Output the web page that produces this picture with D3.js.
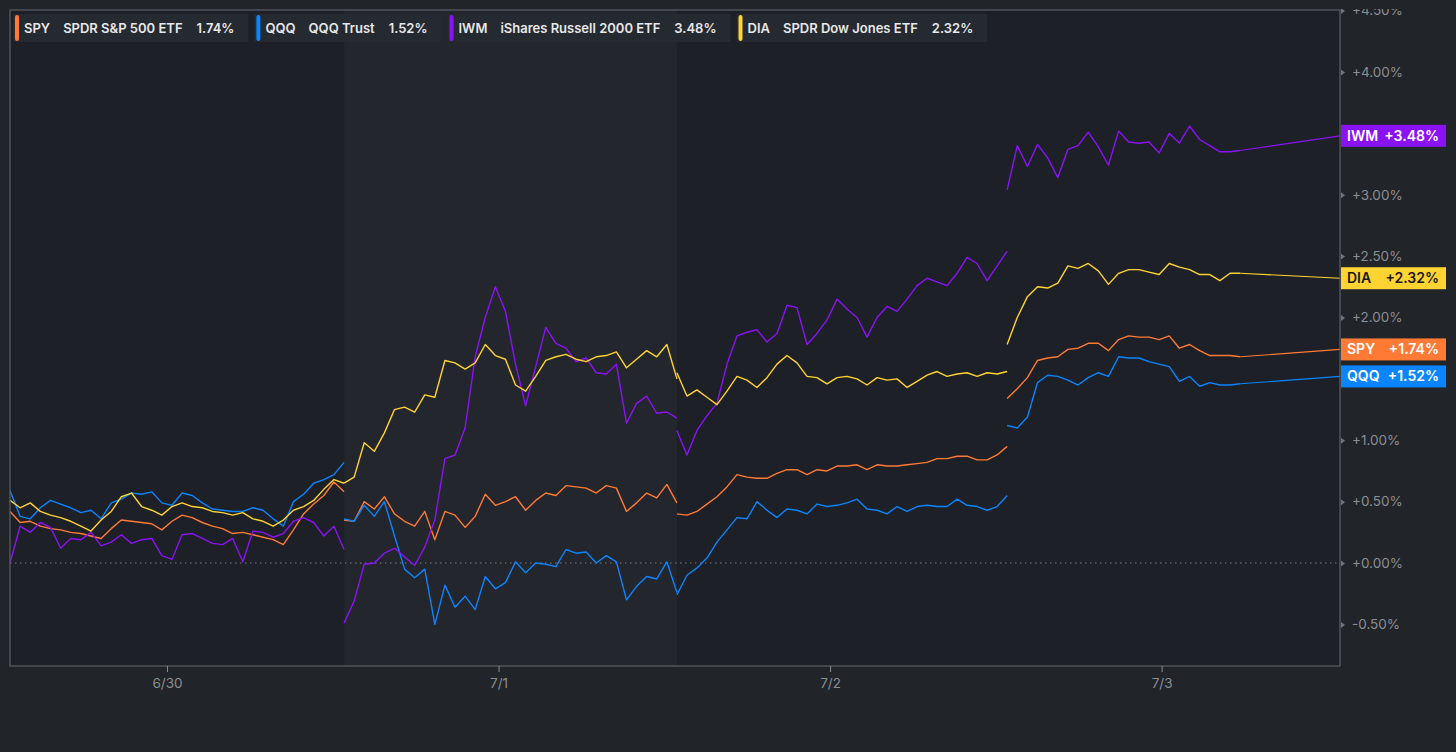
<!DOCTYPE html>
<html>
<head>
<meta charset="utf-8">
<script src="https://cdn.jsdelivr.net/npm/d3@7"></script>
<style>
  html, body { margin: 0; padding: 0; background: #212429; }
  svg { display: block; font-family: Inter, "Noto Sans", sans-serif; }
</style>
</head>
<body>
<svg id="chart" width="1456" height="752"></svg>
<script>
// trading sessions in "day" units (6/30 = 1, 7/1 = 2, ...)
const sessions = [[0.5264, 1.534], [1.534, 2.538], [2.538, 3.534], [3.534, 4.237]];
const lastTime = 4.538;

const tickDays = [1, 2, 3, 4];
const tickLabels = ['6/30', '7/1', '7/2', '7/3'];
const yTicks = [-0.5, 0, 0.5, 1, 1.5, 2, 2.5, 3, 3.5, 4, 4.5];

const symbols = ['SPY', 'QQQ', 'IWM', 'DIA'];
const names = ['SPDR S&P 500 ETF', 'QQQ Trust', 'iShares Russell 2000 ETF', 'SPDR Dow Jones ETF'];
const finalPct = [1.74, 1.52, 3.48, 2.32];

// % change, one list per session
const spy = [
  [0.42,0.33,0.34,0.30,0.28,0.27,0.25,0.24,0.22,0.20,0.28,0.35,0.34,0.33,0.32,0.27,0.34,0.39,0.37,0.33,0.30,0.28,0.24,0.25,0.23,0.21,0.19,0.15,0.27,0.40,0.48,0.55,0.66,0.58],
  [0.35,0.34,0.50,0.44,0.54,0.40,0.34,0.30,0.42,0.19,0.42,0.39,0.29,0.38,0.56,0.47,0.50,0.54,0.43,0.51,0.57,0.55,0.63,0.62,0.61,0.57,0.63,0.61,0.42,0.49,0.57,0.53,0.64,0.49],
  [0.40,0.39,0.42,0.48,0.54,0.62,0.72,0.70,0.69,0.69,0.73,0.76,0.76,0.72,0.76,0.75,0.79,0.79,0.80,0.76,0.80,0.79,0.79,0.80,0.81,0.82,0.85,0.85,0.87,0.87,0.84,0.84,0.88,0.95],
  [1.34,1.42,1.51,1.65,1.67,1.68,1.74,1.75,1.79,1.79,1.73,1.82,1.85,1.84,1.84,1.82,1.85,1.75,1.78,1.73,1.69,1.69,1.69,1.68]
];
const qqq = [
  [0.59,0.38,0.36,0.45,0.51,0.48,0.45,0.41,0.43,0.36,0.49,0.52,0.57,0.56,0.58,0.49,0.47,0.57,0.55,0.49,0.44,0.43,0.42,0.42,0.45,0.43,0.36,0.30,0.50,0.56,0.65,0.68,0.72,0.82],
  [0.36,0.34,0.47,0.38,0.50,0.22,-0.05,-0.12,-0.05,-0.50,-0.18,-0.36,-0.27,-0.38,-0.11,-0.21,-0.16,0.01,-0.08,0.00,-0.01,-0.03,0.11,0.08,0.09,0.00,0.06,0.01,-0.30,-0.19,-0.11,-0.13,0.01,-0.24],
  [-0.26,-0.10,-0.04,0.04,0.17,0.27,0.37,0.36,0.50,0.43,0.37,0.44,0.43,0.40,0.48,0.46,0.47,0.49,0.52,0.44,0.43,0.40,0.46,0.42,0.46,0.47,0.46,0.46,0.52,0.47,0.46,0.43,0.46,0.55],
  [1.12,1.10,1.19,1.47,1.53,1.52,1.49,1.45,1.51,1.55,1.52,1.68,1.67,1.67,1.64,1.62,1.60,1.48,1.52,1.44,1.47,1.45,1.45,1.46]
];
const iwm = [
  [0.00,0.30,0.25,0.33,0.29,0.12,0.20,0.19,0.25,0.14,0.17,0.23,0.16,0.19,0.20,0.06,0.03,0.23,0.24,0.20,0.16,0.15,0.20,0.01,0.26,0.25,0.21,0.24,0.34,0.37,0.33,0.22,0.30,0.11],
  [-0.49,-0.31,-0.01,0.00,0.08,0.12,0.05,-0.02,0.13,0.35,0.85,0.88,1.10,1.68,2.00,2.25,2.05,1.62,1.28,1.60,1.92,1.79,1.75,1.64,1.67,1.55,1.54,1.62,1.14,1.30,1.36,1.22,1.23,1.18],
  [1.08,0.88,1.08,1.20,1.30,1.62,1.85,1.88,1.90,1.80,1.87,2.10,2.08,1.78,1.87,1.98,2.15,2.07,2.00,1.84,2.00,2.09,2.05,2.15,2.26,2.32,2.29,2.26,2.36,2.49,2.44,2.30,2.42,2.54],
  [3.04,3.40,3.23,3.41,3.30,3.14,3.37,3.40,3.51,3.39,3.24,3.52,3.43,3.42,3.43,3.34,3.50,3.42,3.56,3.45,3.40,3.35,3.35,3.36]
];
const dia = [
  [0.51,0.45,0.49,0.42,0.39,0.37,0.34,0.30,0.26,0.35,0.42,0.54,0.57,0.46,0.43,0.39,0.46,0.49,0.46,0.45,0.42,0.41,0.39,0.41,0.36,0.34,0.30,0.35,0.43,0.46,0.51,0.60,0.68,0.65],
  [0.65,0.70,0.98,0.91,1.06,1.25,1.27,1.23,1.37,1.35,1.65,1.63,1.58,1.63,1.78,1.69,1.66,1.45,1.40,1.52,1.65,1.68,1.70,1.66,1.64,1.68,1.69,1.72,1.59,1.66,1.73,1.68,1.78,1.50],
  [1.55,1.36,1.41,1.35,1.29,1.40,1.52,1.49,1.43,1.51,1.62,1.69,1.63,1.52,1.51,1.46,1.51,1.52,1.50,1.45,1.51,1.49,1.50,1.43,1.48,1.53,1.56,1.52,1.54,1.55,1.52,1.55,1.54,1.56],
  [1.78,2.00,2.17,2.25,2.24,2.28,2.42,2.40,2.44,2.38,2.27,2.36,2.39,2.39,2.37,2.35,2.44,2.41,2.39,2.35,2.35,2.30,2.36,2.36]
];

const colors = ['#ff7a35', '#0a84ff', '#8a12f5', '#ffd332'];
const labelText = ['#ffffff', '#ffffff', '#ffffff', '#17191d'];
const seriesData = [spy, qqq, iwm, dia];

const svg = d3.select('#chart');
const plotLeft = 10, plotRight = 1340, plotTop = 10, plotBottom = 666;

const x = d3.scaleLinear().domain([sessions[0][0], lastTime]).range([plotLeft, plotRight]);
const y = d3.scaleLinear().domain([-0.839, 4.505]).range([plotBottom, plotTop]);

// plot background + middle session band
svg.append('rect').attr('x', plotLeft).attr('y', plotTop)
  .attr('width', plotRight - plotLeft).attr('height', plotBottom - plotTop).attr('fill', '#1d2026');
svg.append('rect')
  .attr('x', x(sessions[1][0])).attr('y', plotTop)
  .attr('width', x(sessions[1][1]) - x(sessions[1][0])).attr('height', plotBottom - plotTop)
  .attr('fill', '#23262c');

// zero line
svg.append('line')
  .attr('x1', plotLeft).attr('x2', plotRight).attr('y1', y(0)).attr('y2', y(0))
  .attr('stroke', '#7a7d83').attr('stroke-width', 1).attr('stroke-dasharray', '1.5,3.5');

svg.append('clipPath').attr('id', 'plotClip')
  .append('rect').attr('x', plotLeft).attr('y', plotTop)
  .attr('width', plotRight - plotLeft).attr('height', plotBottom - plotTop);

// turn session lists into points
function toPoints(series) {
  return series.map((vals, s) => {
    const [t0, t1] = sessions[s];
    const step = (t1 - t0) / (vals.length - 1);
    return vals.map((v, i) => ({ t: t0 + i * step, v: v }));
  });
}

const line = d3.line().x(d => x(d.t)).y(d => y(d.v));
const lines = svg.append('g').attr('clip-path', 'url(#plotClip)');

seriesData.forEach((series, k) => {
  const pts = toPoints(series);
  pts.forEach(p => {
    lines.append('path')
      .attr('d', line(p))
      .attr('fill', 'none')
      .attr('stroke', colors[k])
      .attr('stroke-width', 1.4)
      .attr('stroke-linejoin', 'round');
  });
  const lastSession = pts[pts.length - 1];
  const lastPt = lastSession[lastSession.length - 1];
  lines.append('path')
    .attr('d', line([lastPt, { t: lastTime, v: finalPct[k] }]))
    .attr('fill', 'none')
    .attr('stroke', colors[k])
    .attr('stroke-width', 1.1);
});

// frame
svg.append('rect')
  .attr('x', plotLeft).attr('y', plotTop)
  .attr('width', plotRight - plotLeft).attr('height', plotBottom - plotTop)
  .attr('fill', 'none').attr('stroke', '#5c5f65').attr('stroke-width', 1.2);

// y axis (right); ticks hidden behind a value tag are left out, as in the original
const shownTicks = yTicks.filter(t => finalPct.every(p => Math.abs(y(t) - y(p)) > 16));

svg.append('clipPath').attr('id', 'axisClip')
  .append('rect').attr('x', 0).attr('y', 9).attr('width', 116).attr('height', 700);

const yAxis = svg.append('g')
  .attr('clip-path', 'url(#axisClip)')
  .attr('transform', `translate(${plotRight},0)`)
  .call(d3.axisRight(y).tickValues(shownTicks).tickSize(0).tickPadding(12)
    .tickFormat(d => (d >= 0 ? '+' : '') + d.toFixed(2) + '%'));
yAxis.select('.domain').remove();
yAxis.selectAll('text').attr('fill', '#8b8e94').attr('font-size', 13.5).attr('font-family', 'Inter, sans-serif');
yAxis.selectAll('.tick').append('path')
  .attr('d', 'M1,-3L5,0L1,3Z').attr('fill', '#70737a');

// x axis (bottom)
const xAxis = svg.append('g')
  .attr('transform', `translate(0,${plotBottom})`)
  .call(d3.axisBottom(x).tickValues(tickDays).tickSize(6).tickPadding(6)
    .tickFormat((d, i) => tickLabels[i]));
xAxis.select('.domain').remove();
xAxis.selectAll('line').attr('stroke', '#8b8e94');
xAxis.selectAll('text').attr('fill', '#8b8e94').attr('font-size', 13.5).attr('font-family', 'Inter, sans-serif');

// right-hand value tags
symbols.forEach((sym, k) => {
  const g = svg.append('g').attr('transform', `translate(${plotRight + 1},${y(finalPct[k])})`);
  g.append('rect').attr('x', 0).attr('y', -11).attr('width', 105).attr('height', 22).attr('fill', colors[k]);
  g.append('text').attr('x', 6).attr('y', 5).attr('fill', labelText[k])
    .attr('font-size', 14).attr('font-weight', 600).text(sym);
  g.append('text').attr('x', 98).attr('y', 5).attr('text-anchor', 'end').attr('fill', labelText[k])
    .attr('font-size', 14).attr('font-weight', 600).text('+' + finalPct[k].toFixed(2) + '%');
});

// legend
let lx = 13;
symbols.forEach((sym, k) => {
  const g = svg.append('g').attr('transform', `translate(${lx},14)`);
  const bg = g.append('rect').attr('y', 0).attr('height', 28).attr('fill', '#252930');
  g.append('rect').attr('x', 2).attr('y', 1).attr('width', 4).attr('height', 26).attr('rx', 2).attr('fill', colors[k]);
  let tx = 11;
  [sym, names[k], finalPct[k].toFixed(2) + '%'].forEach((s, j) => {
    const t = g.append('text').attr('x', tx).attr('y', 19)
      .attr('fill', '#e8e8ea').attr('font-size', 13).attr('font-weight', 600).text(s);
    tx += t.node().getComputedTextLength() + (j === 0 ? 13 : 14);
  });
  bg.attr('width', tx);
  lx += tx + 6;
});
</script>
</body>
</html>
